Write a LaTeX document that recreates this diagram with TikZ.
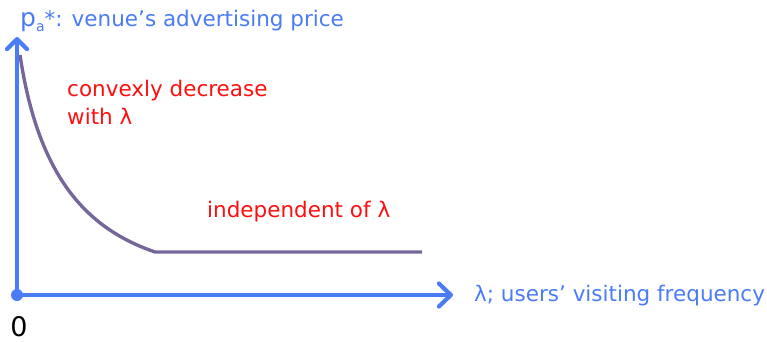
\documentclass[tikz,border=0pt]{standalone}
\usepackage{fontspec}
\setmainfont{DejaVu Sans}
\usetikzlibrary{arrows.meta}
\definecolor{axisblue}{HTML}{4A7CF7}
\definecolor{curvepurple}{HTML}{76679A}
\definecolor{notered}{HTML}{FF1010}
\tikzset{
  axis/.style={draw=axisblue, line width=4.2pt, line cap=round},
  curveline/.style={draw=curvepurple, line width=3.4pt},
  bluetext/.style={text=axisblue, font=\fontsize{21.5}{24}\selectfont, inner sep=0pt, anchor=west},
  redtext/.style={text=notered, font=\fontsize{21.5}{28}\selectfont, inner sep=0pt, anchor=west, align=left},
}
\begin{document}
\begin{tikzpicture}[x=1pt,y=-1pt]
\useasboundingbox (0,0) rectangle (767,342);
% axes
\coordinate (o) at (17,295);
\coordinate (ytip) at (17,37);
\coordinate (xtip) at (453,295);
\draw[axis, -{Straight Barb[length=10pt,width=20pt,line cap=round,line join=round]}] (o) -- (ytip);
\draw[axis, -{Straight Barb[length=12pt,width=23pt,line cap=round,line join=round]}] (o) -- (xtip);
\fill[axisblue] (o) circle (6);
\node[anchor=base, inner sep=0pt, font=\fontsize{27}{27}\selectfont] (zero) at (19,336) {0};
% price curve
\coordinate (c0) at (20,55);
\coordinate (c1) at (155,252);
\coordinate (c2) at (422,252);
\draw[curveline, line join=round] (c0) .. controls (38,175) and (85,228) .. (c1) -- (c2);
% labels
\node[bluetext] (ylab) at (20,21) {{\fontsize{25}{25}\selectfont p}\raisebox{-5pt}{\fontsize{14}{14}\selectfont a}*: venue’s advertising price};
\node[bluetext] (xlab) at (474,296) {λ; users’ visiting frequency};
\node[redtext] (conv) at (67,102) {convexly decrease\\with λ};
\node[redtext] (indep) at (207,212) {independent of λ};
\end{tikzpicture}
\end{document}
